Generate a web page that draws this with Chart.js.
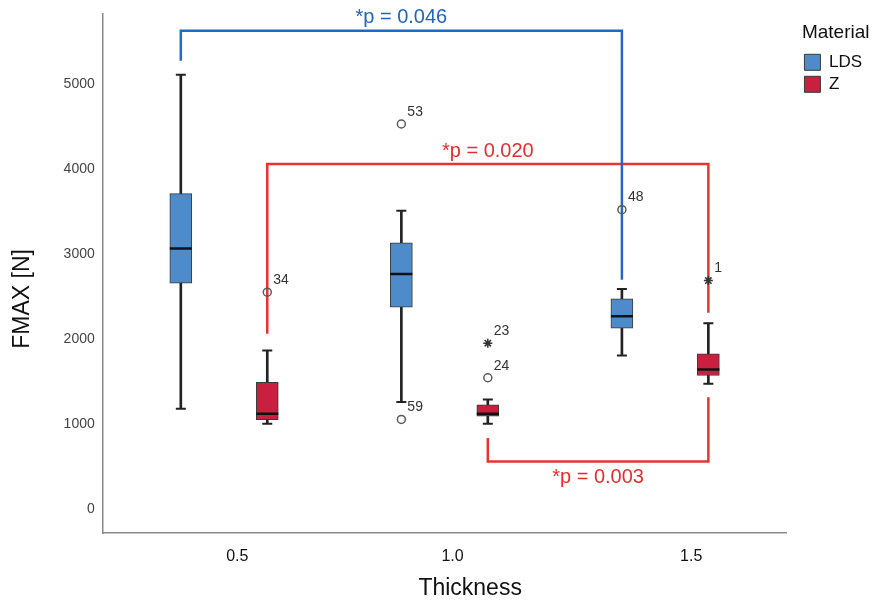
<!DOCTYPE html>
<html>
<head>
<meta charset="utf-8">
<script src="https://cdn.jsdelivr.net/npm/chart.js@4.4.1/dist/chart.umd.min.js"></script>
<style>
    html, body { margin: 0; padding: 0; background: #fff; }
</style>
</head>
<body>
<canvas id="chart" width="872" height="602"></canvas>
<script>
// groups on the x axis
var thickness = [0.5, 1.0, 1.5];
var thickness_labels = ["0.5", "1.0", "1.5"];
var materials = ["LDS", "Z"];

// box plot summaries, FMAX [N]
var lds_min = [1182, 1260, 1808];
var lds_q1 = [2656, 2374, 2128];
var lds_median = [3063, 2766, 2269];
var lds_q3 = [3709, 3130, 2473];
var lds_max = [5106, 3509, 2590];

var z_min = [1006, 1006, 1475];
var z_q1 = [1053, 1095, 1573];
var z_median = [1123, 1123, 1643];
var z_q3 = [1491, 1229, 1827];
var z_max = [1866, 1291, 2187];

// outliers (o) and extremes (*), with case numbers
var outlier_group = [1, 1, 2, 0, 1, 1, 2];
var outlier_material = [0, 0, 0, 1, 1, 1, 1];
var outlier_value = [4527, 1056, 3521, 2551, 1546, 1952, 2688];
var outlier_case = ["53", "59", "48", "34", "24", "23", "1"];
var outlier_extreme = [false, false, false, false, false, true, true];

// significance brackets
var bracket_text = ["*p = 0.046", "*p = 0.020", "*p = 0.003"];
var bracket_from_group = [0, 0, 1];
var bracket_to_group = [2, 2, 2];
var bracket_material = [0, 1, 1];
var bracket_level = [5622, 4057, 563];
var bracket_left_end = [5270, 2064, 837];
var bracket_right_end = [2696, 2310, 1318];

var y_ticks = [0, 1000, 2000, 3000, 4000, 5000];

// styling
const FONT = '"Liberation Sans", Arial, Helvetica, sans-serif';
const MATERIAL_OFFSET = 0.098;
const box_fill = ["#4e8bcb", "#c9203f"];
const bracket_colors = ["#2368c4", "#e8332f"];
const text_colors = ["#2065c0", "#e52f2c"];
const tick_label_at = [0.530, 1.018, 1.559];
// the axis titles sit a little off the plot centre in the original
const TITLE_SHIFT = "        ";

function Box_X( group, material ) {
    return thickness[group] + (material == 0 ? -MATERIAL_OFFSET : MATERIAL_OFFSET);
}

var stats = [
    { min: lds_min, q1: lds_q1, median: lds_median, q3: lds_q3, max: lds_max },
    { min: z_min, q1: z_q1, median: z_median, q3: z_q3, max: z_max }
];

var datasets = [];

for ( var m=0; m<materials.length; m++ ) {
    var s = stats[m];
    var boxes = [];
    var whiskers = [];
    var caps = [];
    var medians = [];
    for ( var i=0; i<thickness.length; i++ ) {
        var x = Box_X(i, m);
        boxes.push({ x: x, y: [s.q1[i], s.q3[i]] });
        whiskers.push({ x: x, y: [s.min[i], s.max[i]] });
        caps.push({ x: x, y: s.min[i] });
        caps.push({ x: x, y: s.max[i] });
        medians.push({ x: x, y: s.median[i] });
    }
    datasets.push({
        type: 'bar', label: materials[m], data: boxes,
        backgroundColor: box_fill[m], borderColor: '#3a3a3a', borderWidth: 1,
        borderSkipped: false, barThickness: 22, grouped: false, order: 3
    });
    datasets.push({
        type: 'bar', label: '', data: whiskers,
        backgroundColor: '#222', borderWidth: 0,
        barThickness: 2, grouped: false, order: 4
    });
    datasets.push({
        type: 'scatter', label: '', data: caps,
        pointStyle: 'line', pointRadius: 5, borderColor: '#222', borderWidth: 2, order: 2
    });
    datasets.push({
        type: 'scatter', label: '', data: medians,
        pointStyle: 'line', pointRadius: 11, borderColor: '#111', borderWidth: 2.5, order: 2
    });
}

var outlier_points = [];
for ( var k=0; k<outlier_value.length; k++ ) {
    outlier_points.push({ x: Box_X(outlier_group[k], outlier_material[k]), y: outlier_value[k] });
}
var outlier_index = datasets.length;
datasets.push({
    type: 'scatter', label: '', data: outlier_points,
    pointStyle: function(c) { return outlier_extreme[c.dataIndex] ? 'star' : 'circle'; },
    pointRadius: function(c) { return outlier_extreme[c.dataIndex] ? 4.5 : 4; },
    backgroundColor: 'rgba(255,255,255,0)',
    borderColor: function(c) { return outlier_extreme[c.dataIndex] ? '#333' : '#5a5a5a'; },
    borderWidth: 1.5, order: 1
});

for ( var b=0; b<bracket_text.length; b++ ) {
    var m = bracket_material[b];
    var xl = Box_X(bracket_from_group[b], m);
    var xr = Box_X(bracket_to_group[b], m);
    datasets.push({
        type: 'scatter', label: '', showLine: true,
        data: [
            { x: xl, y: bracket_left_end[b] },
            { x: xl, y: bracket_level[b] },
            { x: xr, y: bracket_level[b] },
            { x: xr, y: bracket_right_end[b] }
        ],
        borderColor: bracket_colors[m], borderWidth: 2.5, pointRadius: 0,
        borderJoinStyle: 'miter', borderCapStyle: 'butt', fill: false, order: 6
    });
}

const annotate_plugin = {
    id: 'annotate',
    afterDatasetsDraw(chart) {
        var ctx = chart.ctx;
        var xs = chart.scales.x;
        var ys = chart.scales.y;
        ctx.save();

        var meta = chart.getDatasetMeta(outlier_index);
        ctx.font = '14px ' + FONT;
        ctx.fillStyle = '#333';
        ctx.textAlign = 'left';
        ctx.textBaseline = 'middle';
        for ( var i=0; i<meta.data.length; i++ ) {
            var pt = meta.data[i];
            ctx.fillText(outlier_case[i], pt.x + 6, pt.y - 12);
        }

        ctx.font = '20px ' + FONT;
        ctx.textAlign = 'center';
        for ( var b=0; b<bracket_text.length; b++ ) {
            var m = bracket_material[b];
            var x1 = xs.getPixelForValue(Box_X(bracket_from_group[b], m));
            var x2 = xs.getPixelForValue(Box_X(bracket_to_group[b], m));
            var y = ys.getPixelForValue(bracket_level[b]);
            var above = bracket_level[b] > bracket_left_end[b];
            ctx.fillStyle = text_colors[m];
            ctx.fillText(bracket_text[b], (x1 + x2) / 2, above ? y - 13 : y + 16);
        }
        ctx.restore();
    }
};

const config = {
    type: 'bar',
    data: { datasets: datasets },
    options: {
        responsive: false,
        animation: false,
        devicePixelRatio: 1,
        layout: { padding: { top: 13, left: 4, right: 0, bottom: 0 } },
        plugins: {
            tooltip: { enabled: false },
            legend: {
                position: 'right',
                align: 'start',
                title: {
                    display: true, text: 'Material', color: '#111',
                    font: { family: FONT, size: 19 },
                    padding: { top: 10, bottom: 3 }
                },
                labels: {
                    boxWidth: 16, boxHeight: 16, padding: 5, color: '#111',
                    font: { family: FONT, size: 17 },
                    filter: function(item) { return materials.includes(item.text); }
                }
            }
        },
        scales: {
            x: {
                type: 'linear',
                min: 0.225, max: 1.775,
                offset: false,
                grid: { display: false, drawTicks: false },
                border: { display: true, color: '#8a8a8a', width: 1.5 },
                afterBuildTicks: function(scale) {
                    scale.ticks = tick_label_at.map(function(v) { return { value: v }; });
                },
                ticks: {
                    padding: 14, color: '#111',
                    font: { family: FONT, size: 16 },
                    callback: function(value, index) { return thickness_labels[index]; }
                },
                title: {
                    display: true, text: TITLE_SHIFT + 'Thickness', color: '#111',
                    font: { family: FONT, size: 23 },
                    padding: { top: -6, bottom: 0 }
                }
            },
            y: {
                type: 'linear',
                min: -280, max: 5825,
                grid: { display: false, drawTicks: false },
                border: { display: true, color: '#8a8a8a', width: 1.5 },
                afterBuildTicks: function(scale) {
                    scale.ticks = y_ticks.map(function(v) { return { value: v }; });
                },
                afterFit: function(scale) {
                    scale.paddingTop = 0;
                    scale.paddingBottom = 0;
                },
                ticks: {
                    padding: 8, color: '#444',
                    font: { family: FONT, size: 14 },
                    callback: function(value) { return String(value); }
                },
                title: {
                    display: true, text: 'FMAX [N]' + TITLE_SHIFT, color: '#111',
                    font: { family: FONT, size: 23 },
                    padding: { top: 5, bottom: 19 }
                }
            },
            gap: {
                type: 'linear',
                position: 'right',
                display: true,
                grid: { display: false, drawTicks: false },
                border: { display: false },
                ticks: { display: false },
                afterFit: function(scale) { scale.width = 13; }
            }
        }
    },
    plugins: [annotate_plugin]
};

new Chart(document.getElementById('chart').getContext('2d'), config);
</script>
</body>
</html>
